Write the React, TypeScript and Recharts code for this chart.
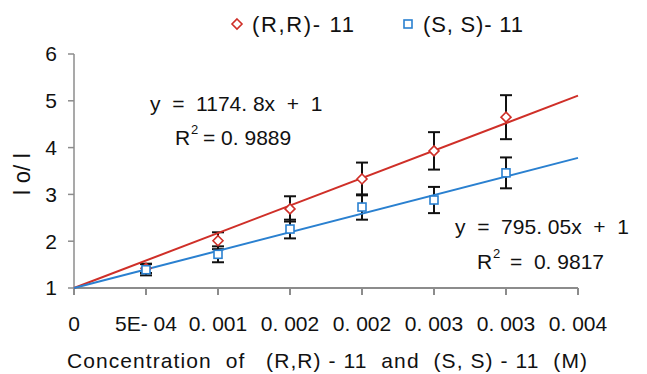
import { ScatterChart, Scatter, XAxis, YAxis, ErrorBar } from "recharts";

// concentrations (M)
const conc = [0.0005, 0.001, 0.0015, 0.002, 0.0025, 0.003];
// Io/I for (R,R)-11 and its error
const rrVals = [1.42, 2.01, 2.69, 3.33, 3.93, 4.65];
const rrErr = [0.1, 0.18, 0.27, 0.35, 0.4, 0.47];
// Io/I for (S,S)-11 and its error
const ssVals = [1.39, 1.72, 2.26, 2.73, 2.88, 3.46];
const ssErr = [0.12, 0.17, 0.2, 0.27, 0.28, 0.33];

// trendline ends
const trendX = [0, 0.0035];
const rrTrendY = [1, 5.11];
const ssTrendY = [1, 3.78];

const xTicks = [0, 0.0005, 0.001, 0.0015, 0.002, 0.0025, 0.003, 0.0035];
const xTickLabels = ["0", "5E- 04", "0. 001", "0. 002", "0. 002", "0. 003", "0. 003", "0. 004"];
const yTicks = [1, 2, 3, 4, 5, 6];

const RED = "#cf2f28";
const BLUE = "#2a80d0";
const FONT = "'Liberation Sans', Arial, sans-serif";

const rrData = conc.map((x, i) => ({ x, y: rrVals[i], err: rrErr[i] }));
const ssData = conc.map((x, i) => ({ x, y: ssVals[i], err: ssErr[i] }));
const rrTrend = trendX.map((x, i) => ({ x, y: rrTrendY[i] }));
const ssTrend = trendX.map((x, i) => ({ x, y: ssTrendY[i] }));

const Diamond = ({ cx, cy }: any) => (
  <path
    d={`M${cx},${cy - 5} L${cx + 5},${cy} L${cx},${cy + 5} L${cx - 5},${cy} Z`}
    fill="#fff"
    stroke={RED}
    strokeWidth={1.6}
  />
);

const Square = ({ cx, cy }: any) => (
  <rect x={cx - 4} y={cy - 4} width={8} height={8} fill="#fff" stroke={BLUE} strokeWidth={1.6} />
);

const NoDot = () => <g />;

const pre = { whiteSpace: "pre" } as const;

export default function App() {
  return (
    <div style={{ position: "fixed", left: 0, top: 0, width: 647, height: 374, background: "#fff" }}>
      <ScatterChart width={647} height={374} margin={{ top: 54, right: 69, left: 0, bottom: 56 }}>
        <XAxis
          type="number"
          dataKey="x"
          domain={[0, 0.0035]}
          ticks={xTicks}
          interval={0}
          tickFormatter={(v: number) => xTickLabels[xTicks.indexOf(v)] ?? ""}
          tick={{ fill: "#111", fontSize: 21, fontFamily: FONT }}
          axisLine={{ stroke: "#8c8c8c", strokeWidth: 2 }}
          tickLine={{ stroke: "#8c8c8c", strokeWidth: 2 }}
          tickSize={7}
          tickMargin={21}
          height={30}
        />
        <YAxis
          type="number"
          dataKey="y"
          domain={[1, 6]}
          ticks={yTicks}
          interval={0}
          tick={{ fill: "#111", fontSize: 21, fontFamily: FONT }}
          axisLine={{ stroke: "#8c8c8c", strokeWidth: 1.5 }}
          tickLine={{ stroke: "#8c8c8c", strokeWidth: 1.5 }}
          tickSize={6}
          tickMargin={11}
          width={74}
        />
        <Scatter
          data={rrTrend}
          line={{ stroke: RED, strokeWidth: 2 }}
          shape={NoDot}
          legendType="none"
          isAnimationActive={false}
        />
        <Scatter
          data={ssTrend}
          line={{ stroke: BLUE, strokeWidth: 2 }}
          shape={NoDot}
          legendType="none"
          isAnimationActive={false}
        />
        <Scatter data={rrData} shape={Diamond} isAnimationActive={false}>
          <ErrorBar dataKey="err" direction="y" width={6} stroke="#111" strokeWidth={2} />
        </Scatter>
        <Scatter data={ssData} shape={Square} isAnimationActive={false}>
          <ErrorBar dataKey="err" direction="y" width={6} stroke="#111" strokeWidth={2} />
        </Scatter>
      </ScatterChart>

      {/* legend, equations and axis titles */}
      <svg
        width={647}
        height={374}
        style={{ position: "absolute", left: 0, top: 0, pointerEvents: "none" }}
        fontFamily={FONT}
        fill="#111"
      >
        <path d="M237,19 L242,24 L237,29 L232,24 Z" fill="#fff" stroke={RED} strokeWidth={1.6} />
        <text x={252} y={32} fontSize={22} textLength={102} lengthAdjust="spacing">(R,R)- 11</text>
        <rect x={404} y={20} width={8} height={8} fill="#fff" stroke={BLUE} strokeWidth={1.6} />
        <text x={423} y={32} fontSize={22} textLength={100} lengthAdjust="spacing">(S, S)- 11</text>

        <text x={150} y={111} fontSize={21} style={pre}>y  =  1174. 8x  +  1</text>
        <text x={175} y={145} fontSize={21}>R</text>
        <text x={191} y={134} fontSize={13}>2</text>
        <text x={203} y={145} fontSize={21} style={pre}>= 0. 9889</text>

        <text x={455} y={234} fontSize={21} style={pre}>y  =  795. 05x  +  1</text>
        <text x={477} y={269} fontSize={21}>R</text>
        <text x={493} y={258} fontSize={13}>2</text>
        <text x={510} y={269} fontSize={21} style={pre}>=  0. 9817</text>

        <g transform="translate(21,174) rotate(-90)">
          <text x={0} y={8.5} fontSize={24} textAnchor="middle" textLength={43} lengthAdjust="spacingAndGlyphs" style={pre}>
            I o/ I
          </text>
        </g>
        <text x={67} y={368} fontSize={21} textLength={520} lengthAdjust="spacing" style={pre}>
          Concentration  of   (R,R) - 11  and  (S, S) - 11  (M)
        </text>
      </svg>
    </div>
  );
}
